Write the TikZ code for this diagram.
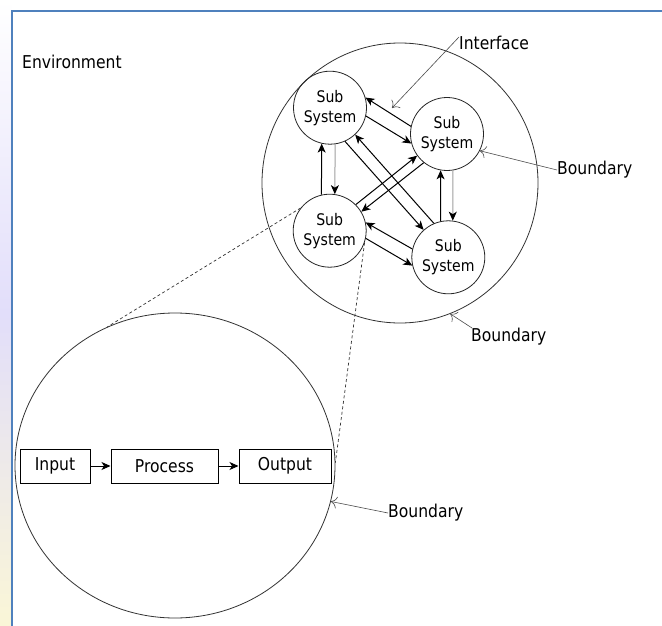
\documentclass[tikz,border=0pt]{standalone}
\usepackage{fontspec}
\setmainfont{DejaVu Sans}[FakeStretch=0.88]
\usetikzlibrary{arrows.meta,shapes.geometric,calc}
\definecolor{frameblue}{RGB}{79,129,189}
\definecolor{lav}{RGB}{226,222,250}
\definecolor{pale}{RGB}{250,246,215}
\begin{document}
\begin{tikzpicture}[x=1pt,y=-1pt,
  ssub/.style={circle,draw=black!85,line width=0.8pt,minimum size=73pt,inner sep=0pt,align=center,font=\fontsize{16}{20}\selectfont},
  sbig/.style={ellipse,draw=black!80,line width=0.8pt,inner sep=0pt},
  sbox/.style={draw,line width=1pt,minimum height=34pt,inner sep=0pt,font=\fontsize{17.7}{20}\selectfont},
  slbl/.style={anchor=west,inner sep=0pt,font=\fontsize{17.7}{20}\selectfont},
  sflow/.style={line width=1pt,-{Stealth[length=9pt,width=8pt,inset=2.5pt]}},
  sflowg/.style={line width=1pt,draw=gray!75,-{Stealth[length=9pt,width=8pt,inset=2.5pt,black]}},
  snote/.style={draw=black!70,line width=0.6pt,-{To[length=6pt,width=12pt]}},
  sdash/.style={draw=black!80,line width=0.7pt,dash pattern=on 3pt off 2.5pt}
]
\useasboundingbox (0,0) rectangle (662,626);
\fill[white] (0,0) rectangle (662,626);
\shade[top color=white,bottom color=pale,middle color=lav] (0,0) rectangle (11,626);
\draw[frameblue,line width=2pt] (12,626) -- (12,11) -- (662,11);

% big boundaries
\node[sbig,minimum width=276pt,minimum height=280pt] (up) at (400,183) {};
\node[sbig,minimum width=320pt,minimum height=305pt] (low) at (175,465.5) {};

% subsystems
\node[ssub] (TL) at (330,107.7) {Sub\\System};
\node[ssub] (TR) at (447,134) {Sub\\System};
\node[ssub] (BL) at (329.7,230.7) {Sub\\System};
\node[ssub] (BR) at (448.3,257.3) {Sub\\System};

% interfaces between subsystems
\draw[sflow] (TR.168) -- (TL.16);
\draw[sflow] (TL.-13) -- (TR.195);
\draw[sflow] (BL.103) -- (TL.257);
\draw[sflowg] (TL.278) -- (BL.82);
\draw[sflow] (BR.102) -- (TR.260);
\draw[sflowg] (TR.279) -- (BR.83);
\draw[sflow] (TL.-66) -- (BR.132);
\draw[sflow] (BR.113) -- (TL.-47);
\draw[sflow] (BL.45) -- (TR.216);
\draw[sflow] (TR.231) -- (BL.31);
\draw[sflow] (BR.167) -- (BL.13);
\draw[sflow] (BL.-12) -- (BR.193);

% labels
\node[slbl] (env) at (22,62) {Environment};
\node[slbl] (iface) at (459,43) {Interface};
\node[slbl] (bd1) at (557,170) {Boundary};
\node[slbl] (bd2) at (471,337) {Boundary};
\node[slbl] (bd3) at (388,513) {Boundary};

\coordinate (ifpt) at (392,108);
\draw[snote] ($(iface.west)+(0,-6)$) -- (ifpt);
\draw[snote] (bd1.west) -- (TR.-27);
\draw[snote] ($(bd2.west)+(1,-9)$) -- (up.-69);
\draw[snote] (bd3.west) -- (low.-13);

% zoom lines
\draw[sdash] (BL.142) -- (low.116);
\draw[sdash] (BL.-19) -- (low.1);

% process chain
\node[sbox,minimum width=70pt] (in) at (55,466) {Input};
\node[sbox,minimum width=107pt] (pr) at (164.5,466) {Process};
\node[sbox,minimum width=92pt] (out) at (285,466) {Output};
\draw[sflow] (in) -- (pr);
\draw[sflow] (pr) -- (out);
\end{tikzpicture}
\end{document}
